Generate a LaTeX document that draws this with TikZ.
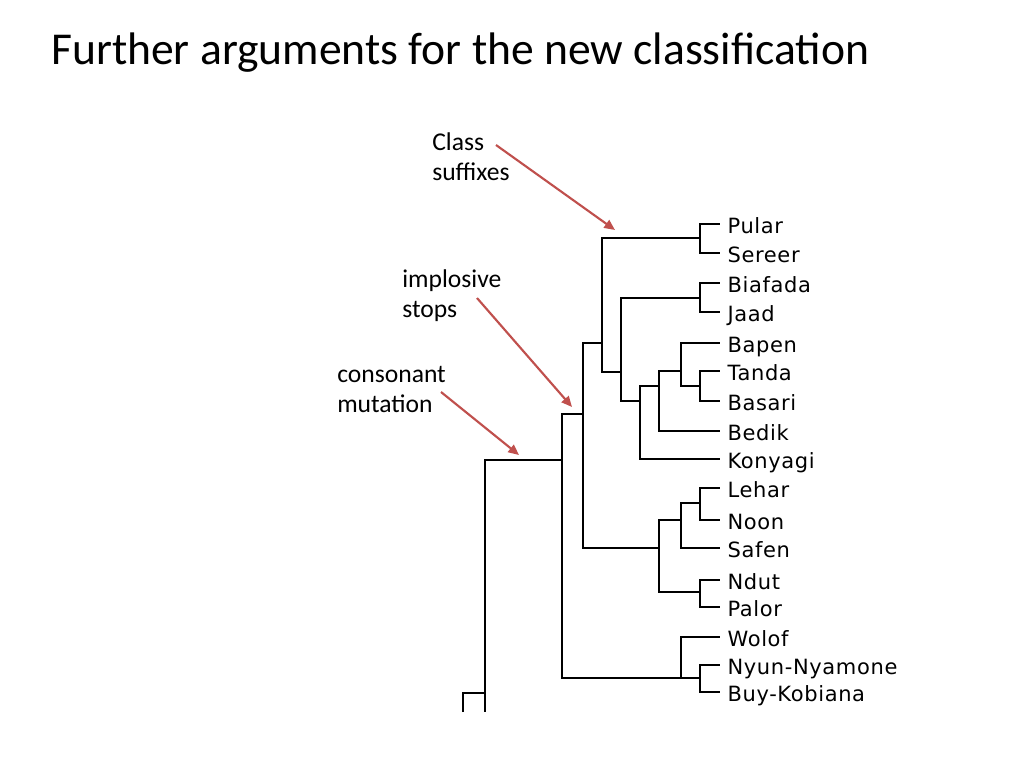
\documentclass[tikz,border=0pt]{standalone}
\usepackage{fontspec}
\setmainfont{Carlito}
\newfontfamily\leaffont[LetterSpace=3.0]{DejaVu Sans}
\usetikzlibrary{arrows.meta}
\definecolor{arrowred}{HTML}{C0504D}
\begin{document}
\begin{tikzpicture}[x=0.75pt,y=-0.75pt,
  branch/.style={line width=1.6pt, line join=miter},
  leaf/.style={anchor=west, inner xsep=5.5pt, inner ysep=0pt, text height=14.4pt, text depth=0pt,
    font=\leaffont\fontsize{15.75}{18}\selectfont},
  note/.style={anchor=base west, inner sep=0pt, align=left,
    font=\fontsize{19.2}{22.5}\selectfont},
  redarrow/.style={draw=arrowred, line width=1.6pt, -{Triangle[length=8pt,width=7pt]}}]
\useasboundingbox[fill=white] (0,0) rectangle (1024,768);

% title
\node[anchor=base west, inner sep=0pt, font=\fontsize{34.2}{40}\selectfont] (title) at (51,64)
  {Further arguments for the new classification};

% leaves
\node[leaf] (Pular)   at (720,224) {Pular};
\node[leaf] (Sereer)  at (720,253) {Sereer};
\node[leaf] (Biafada) at (720,283) {Biafada};
\node[leaf] (Jaad)    at (720,312) {Jaad};
\node[leaf] (Bapen)   at (720,343) {Bapen};
\node[leaf] (Tanda)   at (720,371) {Tanda};
\node[leaf] (Basari)  at (720,401) {Basari};
\node[leaf] (Bedik)   at (720,431) {Bedik};
\node[leaf] (Konyagi) at (720,459) {Konyagi};
\node[leaf] (Lehar)   at (720,488) {Lehar};
\node[leaf] (Noon)    at (720,520) {Noon};
\node[leaf] (Safen)   at (720,548) {Safen};
\node[leaf] (Ndut)    at (720,580) {Ndut};
\node[leaf] (Palor)   at (720,607) {Palor};
\node[leaf] (Wolof)   at (720,637) {Wolof};
\node[leaf] (Nyun)    at (720,665) {Nyun-Nyamone};
\node[leaf] (Buy)     at (720,692) {Buy-Kobiana};

% internal nodes
\coordinate (A) at (700,238);
\coordinate (D) at (700,298);
\coordinate (H) at (700,386);
\coordinate (G) at (681,371);
\coordinate (F) at (659,386);
\coordinate (E) at (640,401);
\coordinate (C) at (621,372);
\coordinate (B) at (602,343);
\coordinate (M) at (700,503);
\coordinate (L) at (681,520);
\coordinate (N) at (700,592);
\coordinate (K) at (659,548);
\coordinate (I) at (583,414);
\coordinate (P) at (700,678);
\coordinate (O) at (681,678);
\coordinate (J) at (562,460);
\coordinate (R) at (485,693);
\coordinate (Rcut) at (485,712);
\coordinate (Scut) at (463,712);

% branches
\draw[branch] (A) |- (Pular.west) (A) |- (Sereer.west);
\draw[branch] (D) |- (Biafada.west) (D) |- (Jaad.west);
\draw[branch] (H) |- (Tanda.west) (H) |- (Basari.west);
\draw[branch] (G) |- (Bapen.west) (G) |- (H);
\draw[branch] (F) |- (G) (F) |- (Bedik.west);
\draw[branch] (E) |- (F) (E) |- (Konyagi.west);
\draw[branch] (C) |- (D) (C) |- (E);
\draw[branch] (B) |- (A) (B) |- (C);
\draw[branch] (M) |- (Lehar.west) (M) |- (Noon.west);
\draw[branch] (L) |- (M) (L) |- (Safen.west);
\draw[branch] (N) |- (Ndut.west) (N) |- (Palor.west);
\draw[branch] (K) |- (L) (K) |- (N);
\draw[branch] (I) |- (B) (I) |- (K);
\draw[branch] (P) |- (Nyun.west) (P) |- (Buy.west);
\draw[branch] (O) |- (Wolof.west) (O) -- (P);
\draw[branch] (J) |- (I) (J) |- (O);
\draw[branch] (R) |- (J) (R) -- (Rcut);
\draw[branch] (Scut) |- (R);

% annotations (base anchor = last line's baseline)
\node[note] (cls) at (432,180) {Class\\suffixes};
\node[note] (imp) at (402,317) {implosive\\stops};
\node[note] (con) at (337,412) {consonant\\mutation};

\coordinate (clsS) at (496,145);
\coordinate (clsE) at (615,230);
\coordinate (impS) at (477,298);
\coordinate (impE) at (572,407);
\coordinate (conS) at (441,392);
\coordinate (conE) at (519,455);
\draw[redarrow] (clsS) -- (clsE);
\draw[redarrow] (impS) -- (impE);
\draw[redarrow] (conS) -- (conE);
\end{tikzpicture}
\end{document}
